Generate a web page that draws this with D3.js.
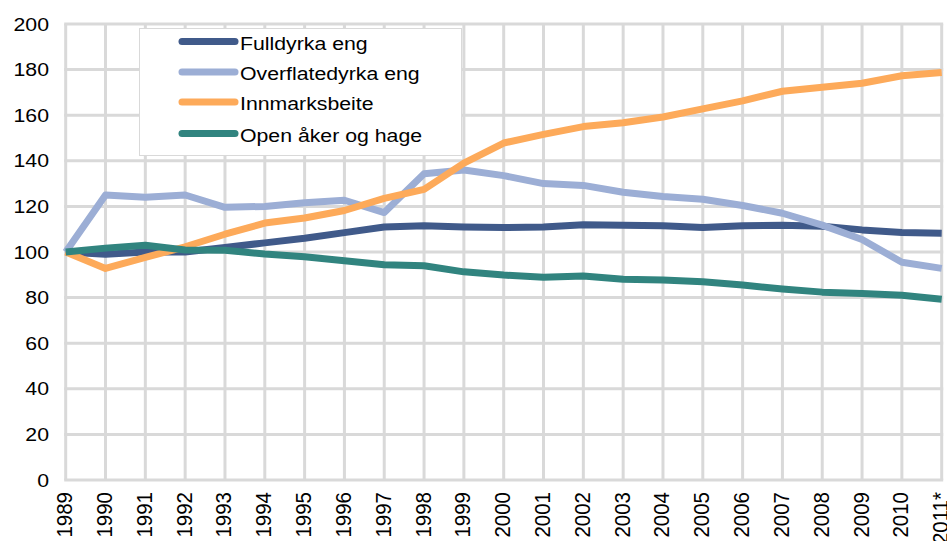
<!DOCTYPE html>
<html>
<head>
<meta charset="utf-8">
<style>
  body { margin: 0; background: #fff; }
  #chart text { font-family: "Liberation Sans", Arial, sans-serif; fill: #000; }
</style>
</head>
<body>
<div id="chart"></div>
<script src="https://cdn.jsdelivr.net/npm/d3@7"></script>
<script>
var years = ["1989", "1990", "1991", "1992", "1993", "1994", "1995", "1996", "1997", "1998", "1999",
             "2000", "2001", "2002", "2003", "2004", "2005", "2006", "2007", "2008", "2009", "2010", "2011*"];

var fulldyrka = [100, 99, 100, 100, 102, 104, 106, 108.5, 111, 111.5, 111, 110.7, 111, 112, 111.7, 111.5, 110.7, 111.5, 111.7, 111.3, 109.7, 108.6, 108.2];
var overflate = [100, 125, 124, 125, 119.6, 120, 121.6, 122.7, 117.3, 134.3, 136, 133.5, 130, 129.2, 126.2, 124.3, 123.1, 120.4, 117, 111.8, 105.5, 95.5, 92.8];
var innmark   = [100, 92.8, 97.6, 102.3, 107.8, 112.7, 114.9, 118.2, 123.5, 127.5, 139, 147.8, 151.6, 155, 156.7, 159.2, 162.8, 166.3, 170.5, 172.3, 174, 177.3, 178.7];
var openaker  = [100, 101.7, 103, 100.9, 100.8, 99.1, 97.9, 96.2, 94.4, 94, 91.3, 89.9, 88.9, 89.5, 88, 87.7, 87, 85.5, 83.8, 82.4, 81.8, 81, 79.3];

var seriesNames = ["Fulldyrka eng", "Overflatedyrka eng", "Innmarksbeite", "Open åker og hage"];
var seriesColors = ["#405a8a", "#9caed5", "#fdaa5a", "#31847f"];
var yTicks = [0, 20, 40, 60, 80, 100, 120, 140, 160, 180, 200];

var width = 947, height = 541;
var plotLeft = 65.7, plotRight = 941.7, plotTop = 24, plotBottom = 480;
var stretch = 1.15;   // the original text is a bit wider than Arial

var svg = d3.select("#chart").append("svg")
    .attr("width", width)
    .attr("height", height);

var x = d3.scalePoint().domain(years).range([plotLeft, plotRight]);
var y = d3.scaleLinear().domain([0, 200]).range([plotBottom, plotTop]);

// grid
var grid = svg.append("g").attr("stroke", "#d9d9d9").attr("stroke-width", 3);
grid.selectAll("line.h").data(yTicks).enter().append("line")
    .attr("x1", plotLeft - 1.5).attr("x2", plotRight + 1.5)
    .attr("y1", function(d) { return y(d); })
    .attr("y2", function(d) { return y(d); });
grid.selectAll("line.v").data(years).enter().append("line")
    .attr("x1", function(d) { return x(d); })
    .attr("x2", function(d) { return x(d); })
    .attr("y1", plotTop).attr("y2", plotBottom);

// y labels
svg.append("g").selectAll("text").data(yTicks).enter().append("text")
    .attr("text-anchor", "end")
    .attr("font-size", 18.5)
    .attr("transform", function(d) { return "translate(49," + (y(d) + 6.5) + ") scale(" + stretch + ",1)"; })
    .text(function(d) { return d; });

// x labels
svg.append("g").selectAll("text").data(years).enter().append("text")
    .attr("text-anchor", "end")
    .attr("font-size", 20.5)
    .attr("transform", function(d) { return "translate(" + (x(d) + 6.5) + ",492) scale(1.08,1) rotate(-90)"; })
    .text(function(d) { return d; });

// series
var data = [fulldyrka, overflate, innmark, openaker];
var line = d3.line()
    .x(function(d, i) { return x(years[i]); })
    .y(function(d) { return y(d); });

svg.append("g").selectAll("path").data(data).enter().append("path")
    .attr("d", line)
    .attr("fill", "none")
    .attr("stroke", function(d, i) { return seriesColors[i]; })
    .attr("stroke-width", 7)
    .attr("stroke-linejoin", "round");

// legend
var legend = svg.append("g");
legend.append("rect")
    .attr("x", 139.5).attr("y", 28.5)
    .attr("width", 322).attr("height", 127)
    .attr("fill", "#fff")
    .attr("stroke", "#d9d9d9");
var legendY = [41.5, 72, 102, 133.5];
var items = legend.selectAll("g.item").data(seriesNames).enter().append("g");
items.append("line")
    .attr("x1", 182).attr("x2", 235)
    .attr("y1", function(d, i) { return legendY[i]; })
    .attr("y2", function(d, i) { return legendY[i]; })
    .attr("stroke", function(d, i) { return seriesColors[i]; })
    .attr("stroke-width", 7)
    .attr("stroke-linecap", "round");
items.append("text")
    .attr("font-size", 18.5)
    .attr("transform", function(d, i) { return "translate(240," + (legendY[i] + 8) + ") scale(" + stretch + ",1)"; })
    .text(function(d) { return d; });
</script>
</body>
</html>
